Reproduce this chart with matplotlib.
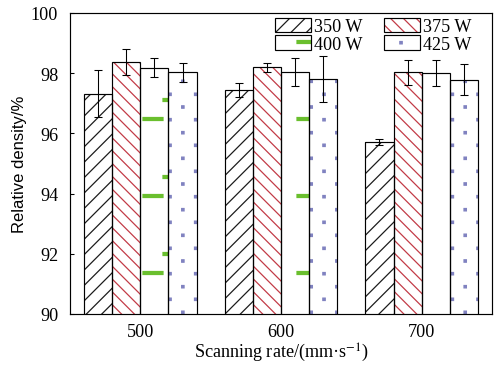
import numpy as np
import matplotlib
matplotlib.use('Agg')
import matplotlib.pyplot as plt
import matplotlib.hatch as mhatch
from matplotlib.path import Path

# data
rates = ['500', '600', '700']
powers = ['350 W', '375 W', '400 W', '425 W']
dens_350 = [97.32, 97.45, 95.72]
err_350 = [0.79, 0.23, 0.09]
dens_375 = [98.36, 98.19, 98.03]
err_375 = [0.43, 0.14, 0.41]
dens_400 = [98.18, 98.05, 98.01]
err_400 = [0.32, 0.46, 0.43]
dens_425 = [98.03, 97.81, 97.79]
err_425 = [0.32, 0.77, 0.50]

DPI = 77  # agg hatch tile is dpi pixels wide -> 77 px repeat like the original


# ---- custom hatch patterns (tile units, y up) ----
def _u(x0, x1, r0, r1):
    # pixel box inside the tile (rows from top) -> unit square coords
    return (x0 / DPI, 1 - r1 / DPI, x1 / DPI, 1 - r0 / DPI)


class WideDiag(mhatch.NorthEastHatch):
    # '/' with 5 lines per slash (a bit wider than default)
    def __init__(self, hatch, density):
        self.num_lines = hatch.count('/') * 5
        self.num_vertices = (self.num_lines + 1) * 2 if self.num_lines else 0


class RectHatch(mhatch.HatchPatternBase):
    char = ''
    rects = []

    def __init__(self, hatch, density):
        self.num_vertices = 5 * len(self.rects) if self.char in hatch else 0

    def set_vertices_and_codes(self, vertices, codes):
        for i, (x0, y0, x1, y1) in enumerate(self.rects):
            vertices[5 * i:5 * i + 5] = [(x0, y0), (x1, y0), (x1, y1), (x0, y1), (x0, y0)]
            codes[5 * i:5 * i + 5] = [Path.MOVETO, Path.LINETO, Path.LINETO,
                                      Path.LINETO, Path.CLOSEPOLY]


class GreenDash(RectHatch):
    char = '-'
    rects = [_u(66, 77, 40.5, 43.5), _u(0, 9, 40.5, 43.5), _u(9, 29, 21.5, 24.5)]


dot_boxes = []
for k in range(6):
    cx = 3.2 + 12.83 * k
    rows = [4.3, 30.0, 55.7] if k % 2 == 0 else [17.3, 42.7, 68.3]
    for r in rows:
        dot_boxes.append(_u(cx - 1.2, cx + 1.2, r - 1.2, r + 1.2))


class SparseDots(RectHatch):
    char = '.'
    rects = dot_boxes


mhatch._hatch_types[:] = [WideDiag, mhatch.SouthEastHatch, GreenDash, SparseDots]

plt.rcParams['font.family'] = 'Liberation Serif'
plt.rcParams['mathtext.fontset'] = 'stix'
plt.rcParams['hatch.linewidth'] = 1.15

fig = plt.figure(figsize=(504 / DPI, 366 / DPI), dpi=DPI)
ax = fig.add_axes([70 / 504, 1 - 315 / 366, 422 / 504, 301 / 366])

x = np.arange(len(rates))
w = 0.2
series = [(dens_350, err_350, '//', '#1a1a1a'),
          (dens_375, err_375, '\\\\', '#c23a46'),
          (dens_400, err_400, '-', '#6abf2e'),
          (dens_425, err_425, '.', '#8082c0')]

handles = []
for i, (vals, errs, hatch, col) in enumerate(series):
    pos = x + (i - 1.5) * w
    bh = ax.bar(pos, vals, w, bottom=0, color='white', edgecolor=col,
                linewidth=0, hatch=hatch, zorder=2)
    be = ax.bar(pos, vals, w, fill=False, edgecolor='black', linewidth=1.1,
                yerr=errs, zorder=3,
                error_kw=dict(ecolor='black', elinewidth=1.0, capsize=3.5, capthick=1.0))
    handles.append((bh.patches[0], be.patches[0]))

ax.set_ylim(90, 100)
ax.set_xlim(-0.5, 2.5)
ax.set_yticks([90, 92, 94, 96, 98, 100])
ax.set_xticks(x)
ax.set_xticklabels(rates)
ax.tick_params(axis='y', direction='in', length=4, width=1.0, labelsize=17, pad=11)
ax.tick_params(axis='x', length=0, labelsize=17, pad=8)
for s in ax.spines.values():
    s.set_linewidth(1.1)

ax.set_xlabel('Scanning rate/(mm·s$^{-1}$)', fontsize=17, labelpad=1.5)
ax.set_ylabel('Relative density/%', fontsize=15.5, family='Liberation Sans', labelpad=4)

order = [0, 2, 1, 3]
ax.legend([handles[i] for i in order], [powers[i] for i in order], ncol=2,
          frameon=False, fontsize=17, loc='upper left',
          bbox_to_anchor=((275 - 70) / 422, 1 - 5 / 301),
          borderaxespad=0, borderpad=0, handlelength=2.0, handleheight=0.82,
          handletextpad=0.17, columnspacing=1.15, labelspacing=0.0)

fig.savefig('out.png', dpi=DPI)
